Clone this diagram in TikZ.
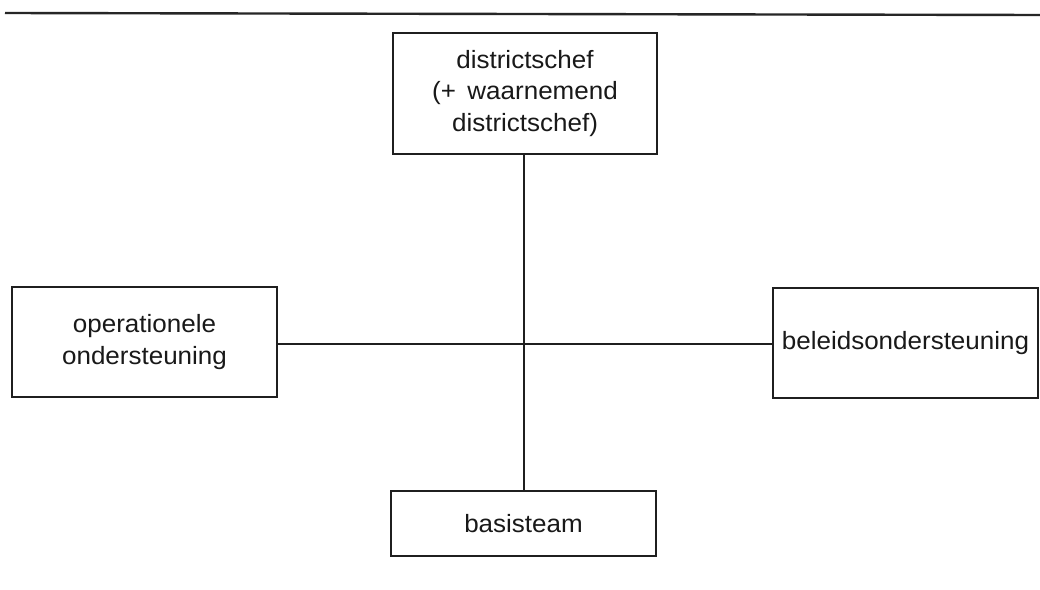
\documentclass[tikz,border=0pt]{standalone}
\usepackage{fontspec}
\setmainfont{Liberation Sans}[FakeStretch=1.04]
\begin{document}
\begin{tikzpicture}[x=1pt,y=-1pt,
  box/.style={draw=black!88, line width=2pt, rectangle, inner sep=0pt,
    align=center, text=black!90, font=\fontsize{25}{31.5}\selectfont},
  link/.style={draw=black!88, line width=1.8pt}]
  \useasboundingbox (0,0) rectangle (1040,589);
  \fill[white] (0,0) rectangle (1040,589);

  % rule across the top of the chart
  \draw[line width=2.4pt, black!85] (5,13) -- (1040,15);

  % organisation units
  \node[box, minimum width=264pt, minimum height=121pt] (chef) at (525,93.5)
    {districtschef\\(+ \,waarnemend\\districtschef)};
  \node[box, minimum width=265pt, minimum height=110pt] (ops) at (144.5,342)
    {operationele\\ondersteuning};
  \node[box, minimum width=265pt, minimum height=110pt] (beleid) at (905.5,343)
    {beleidsondersteuning};
  \node[box, minimum width=265pt, minimum height=65pt] (basis) at (523.5,523.5)
    {basisteam};

  % crossing point of the two connecting lines
  \coordinate (hub) at (524,344);

  \draw[link] (chef.south -| hub) -- (basis.north -| hub);
  \draw[link] (ops.east |- hub) -- (beleid.west |- hub);
\end{tikzpicture}
\end{document}
